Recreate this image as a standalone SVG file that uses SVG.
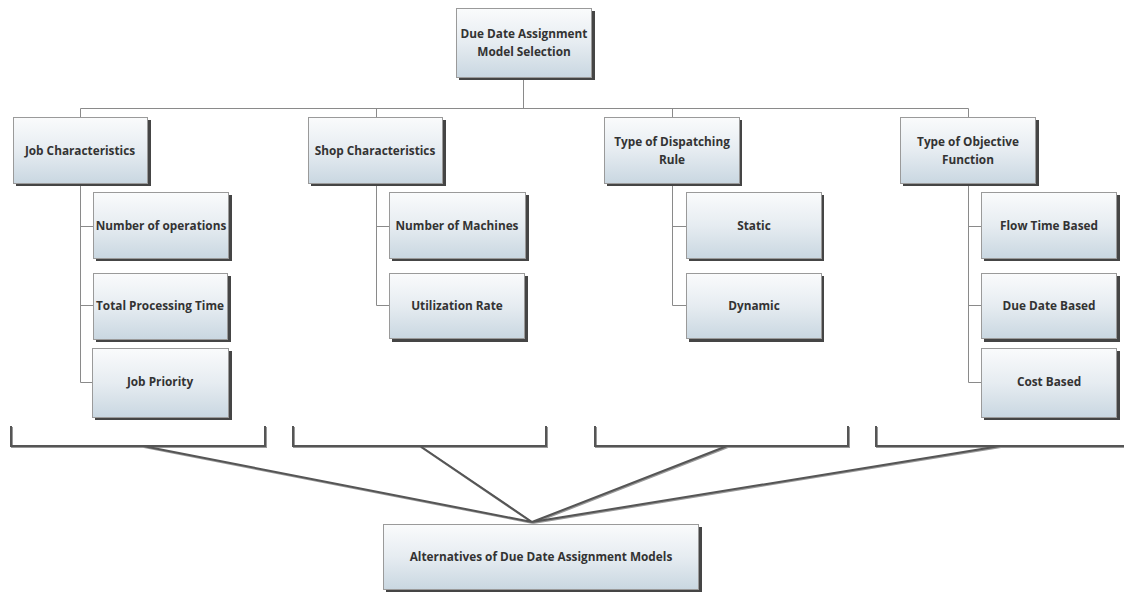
<svg xmlns="http://www.w3.org/2000/svg" width="1124" height="592" viewBox="0 0 1124 592">
<defs>
<linearGradient id="g" x1="0" y1="0" x2="0" y2="1">
<stop offset="0" stop-color="#fafbfc"/>
<stop offset="0.5" stop-color="#e6ecf1"/>
<stop offset="1" stop-color="#c9d7e1"/>
</linearGradient>
<filter id="blur" x="-10%" y="-10%" width="120%" height="120%"><feGaussianBlur stdDeviation="0.7"/></filter>
</defs>
<style>
.box{fill:url(#g);stroke:#9a9a9a;stroke-width:1}
.sh{fill:#444;filter:url(#blur)}
.t{font-family:"Open Sans","Noto Sans",sans-serif;font-weight:bold;font-size:11.8px;fill:#333;text-anchor:middle}
.c{fill:none;stroke:#8a8a8a;stroke-width:1}
.br{fill:none;stroke:#555;stroke-width:2}
.brs{fill:none;stroke:#999;stroke-width:2;filter:url(#blur)}
</style>
<rect width="1124" height="592" fill="#fff"/>
<g id="connectors">
<path class="c" d="M523.5 78V108.5M80.5 108.5H968.5M80.5 108.5V117M376.5 108.5V117M672.5 108.5V117M968.5 108.5V117"/>
<path class="c" d="M80.5 183V382.5H93M80.5 226.5H93M80.5 305.5H93"/>
<path class="c" d="M376.5 183V305.5H389M376.5 226.5H389"/>
<path class="c" d="M672.5 183V305.5H686M672.5 226.5H686"/>
<path class="c" d="M968.5 183V382.5H981M968.5 226.5H981M968.5 305.5H981"/>
<g transform="translate(1,1)">
<path class="brs" d="M11 426V446H265V426M293 426V446H546V426M595 426V446H848V426M876 426V446H1124"/>
<path class="brs" d="M143 446L532 522M420 446L532 522M727 446L532 522M1000 446L532 522"/>
</g>
<path class="br" d="M11 426V446H265V426M293 426V446H546V426M595 426V446H848V426M876 426V446H1124"/>
<path class="br" d="M143 446L532 522M420 446L532 522M727 446L532 522M1000 446L532 522"/>
</g>
<g id="n-root"><rect class="sh" x="459" y="11" width="136" height="69"/><rect class="box" x="456.5" y="8.5" width="135" height="69"/><text class="t" x="524" y="38">Due Date Assignment</text><text class="t" x="524" y="56">Model Selection</text></g>
<g id="n-job"><rect class="sh" x="16" y="120" width="135" height="66"/><rect class="box" x="13.5" y="117.5" width="134" height="66"/><text class="t" x="80" y="155">Job Characteristics</text></g>
<g id="n-shop"><rect class="sh" x="311" y="120" width="135" height="66"/><rect class="box" x="308.5" y="117.5" width="134" height="66"/><text class="t" x="375" y="155">Shop Characteristics</text></g>
<g id="n-disp"><rect class="sh" x="607" y="120" width="135" height="66"/><rect class="box" x="604.5" y="117.5" width="135" height="66"/><text class="t" x="672" y="146">Type of Dispatching</text><text class="t" x="672" y="164">Rule</text></g>
<g id="n-obj"><rect class="sh" x="903" y="120" width="136" height="66"/><rect class="box" x="900.5" y="117.5" width="135" height="66"/><text class="t" x="968" y="146">Type of Objective</text><text class="t" x="968" y="164">Function</text></g>
<g id="n-ops"><rect class="sh" x="96" y="195" width="136" height="66"/><rect class="box" x="93.5" y="192.5" width="135" height="66"/><text class="t" x="161" y="230">Number of operations</text></g>
<g id="n-tpt"><rect class="sh" x="96" y="276" width="135" height="66"/><rect class="box" x="93.5" y="273.5" width="134" height="66"/><text class="t" x="160" y="310">Total Processing Time</text></g>
<g id="n-prio"><rect class="sh" x="95" y="351" width="137" height="69"/><rect class="box" x="92.5" y="348.5" width="136" height="69"/><text class="t" x="160" y="386">Job Priority</text></g>
<g id="n-mach"><rect class="sh" x="392" y="195" width="137" height="66"/><rect class="box" x="389.5" y="192.5" width="136" height="66"/><text class="t" x="457" y="230">Number of Machines</text></g>
<g id="n-util"><rect class="sh" x="392" y="276" width="136" height="66"/><rect class="box" x="389.5" y="273.5" width="135" height="65"/><text class="t" x="457" y="310">Utilization Rate</text></g>
<g id="n-static"><rect class="sh" x="689" y="195" width="135" height="66"/><rect class="box" x="686.5" y="192.5" width="135" height="66"/><text class="t" x="754" y="230">Static</text></g>
<g id="n-dyn"><rect class="sh" x="689" y="276" width="135" height="66"/><rect class="box" x="686.5" y="273.5" width="135" height="65"/><text class="t" x="754" y="310">Dynamic</text></g>
<g id="n-flow"><rect class="sh" x="984" y="195" width="136" height="66"/><rect class="box" x="981.5" y="192.5" width="135" height="66"/><text class="t" x="1049" y="230">Flow Time Based</text></g>
<g id="n-due"><rect class="sh" x="984" y="276" width="136" height="66"/><rect class="box" x="981.5" y="273.5" width="135" height="65"/><text class="t" x="1049" y="310">Due Date Based</text></g>
<g id="n-cost"><rect class="sh" x="984" y="351" width="136" height="69"/><rect class="box" x="981.5" y="348.5" width="135" height="69"/><text class="t" x="1049" y="386">Cost Based</text></g>
<g id="n-alt"><rect class="sh" x="386" y="527" width="316" height="65"/><rect class="box" x="383.5" y="524.5" width="315" height="65"/><text class="t" x="541" y="561">Alternatives of Due Date Assignment Models</text></g>
</svg>
